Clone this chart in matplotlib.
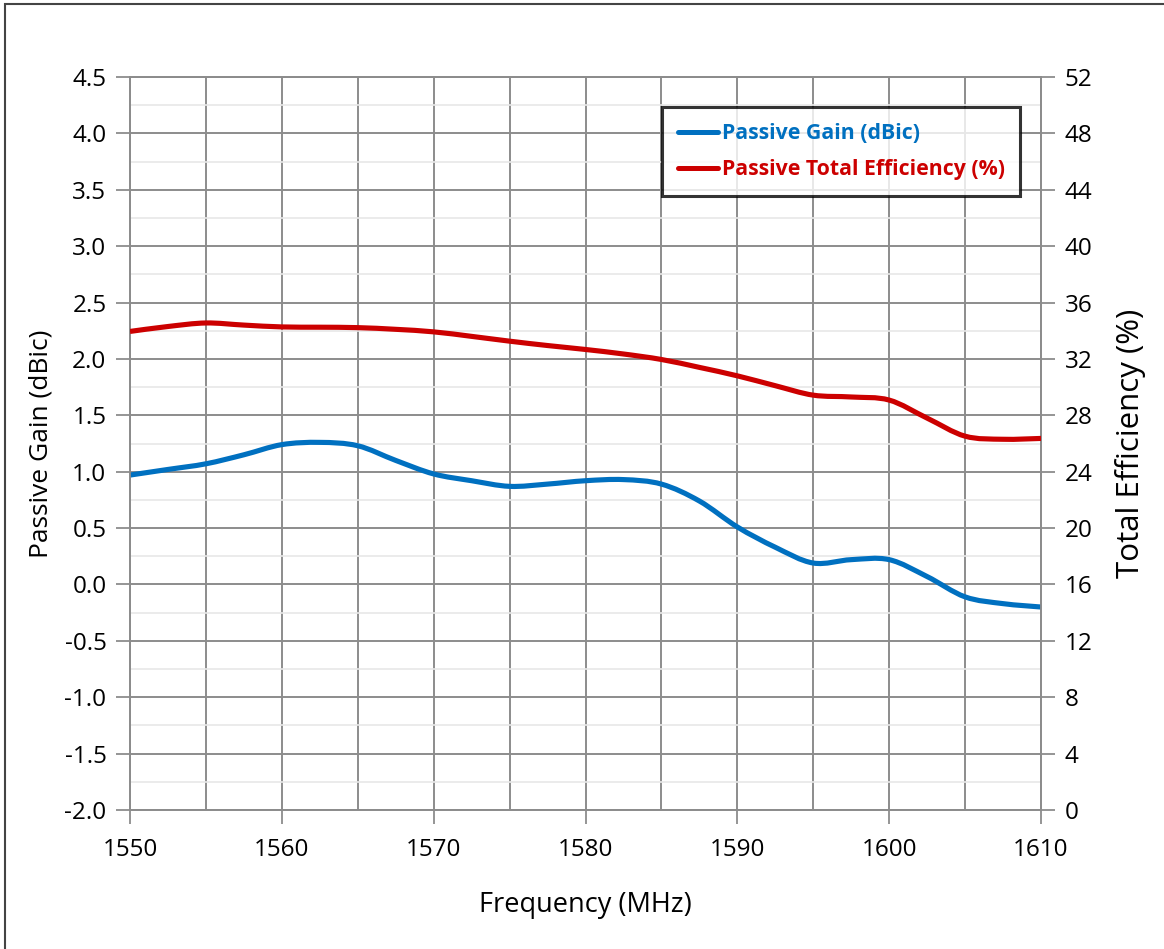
import matplotlib
matplotlib.use("Agg")
import matplotlib.pyplot as plt
from matplotlib.patches import Rectangle, PathPatch
from matplotlib.path import Path
from matplotlib.lines import Line2D
from matplotlib.ticker import MultipleLocator, FixedLocator

plt.rcParams['font.family'] = ['Open Sans', 'DejaVu Sans']

freq = [1550, 1552.5, 1555, 1557.5, 1560, 1562.5, 1565, 1567.5, 1570, 1572.5,
        1575, 1577.5, 1580, 1582.5, 1585, 1587.5, 1590, 1592.5, 1595, 1597.5,
        1600, 1602.5, 1605, 1607.5, 1610]
gain = [0.97, 1.02, 1.07, 1.15, 1.24, 1.26, 1.23, 1.10, 0.98, 0.92,
        0.87, 0.89, 0.92, 0.93, 0.89, 0.74, 0.51, 0.33, 0.19, 0.22,
        0.22, 0.07, -0.11, -0.17, -0.20]
eff = [33.95, 34.3, 34.55, 34.4, 34.27, 34.25, 34.22, 34.1, 33.92, 33.6,
       33.26, 32.95, 32.67, 32.35, 31.96, 31.4, 30.8, 30.1, 29.43, 29.3,
       29.08, 27.8, 26.52, 26.3, 26.36]

x_ticks = [1550, 1560, 1570, 1580, 1590, 1600, 1610]
y_left_ticks = [-2.0, -1.5, -1.0, -0.5, 0.0, 0.5, 1.0, 1.5, 2.0, 2.5, 3.0, 3.5, 4.0, 4.5]
y_right_ticks = list(range(0, 53, 4))

blue = '#0070C0'
red = '#CC0000'
grid_c = '#8c8c8c'


def smooth_path(xs, ys):
    """Excel-style smoothed line: cubic Bezier through the points (Catmull-Rom)."""
    pts = list(zip(xs, ys))
    n = len(pts)
    verts = [pts[0]]
    codes = [Path.MOVETO]
    for i in range(n - 1):
        p0 = pts[i - 1] if i > 0 else pts[i]
        p1 = pts[i]
        p2 = pts[i + 1]
        p3 = pts[i + 2] if i + 2 < n else pts[i + 1]
        c1 = (p1[0] + (p2[0] - p0[0]) / 6, p1[1] + (p2[1] - p0[1]) / 6)
        c2 = (p2[0] - (p3[0] - p1[0]) / 6, p2[1] - (p3[1] - p1[1]) / 6)
        verts += [c1, c2, p2]
        codes += [Path.CURVE4] * 3
    return Path(verts, codes)


W, H = 1164, 949
fig = plt.figure(figsize=(W / 100, H / 100), dpi=100)
ax = fig.add_axes([130 / W, 1 - 810 / H, (1041 - 130) / W, (810 - 77) / H])
ax2 = ax.twinx()

ax.set_xlim(1550, 1610)
ax.set_ylim(-2.0, 4.5)
ax2.set_ylim(0, 52)

ax.xaxis.set_major_locator(FixedLocator(x_ticks))
ax.xaxis.set_minor_locator(MultipleLocator(5))
ax.yaxis.set_major_locator(FixedLocator(y_left_ticks))
ax.yaxis.set_minor_locator(MultipleLocator(0.25))
ax2.yaxis.set_major_locator(FixedLocator(y_right_ticks))

ax.grid(True, which='major', axis='both', color=grid_c, lw=1.4, zorder=0)
ax.grid(True, which='minor', axis='x', color=grid_c, lw=1.4, zorder=0)
ax.grid(True, which='minor', axis='y', color='#e8e8e8', lw=1.2, zorder=0)
ax.set_axisbelow(True)

ax.tick_params(axis='both', which='major', direction='out', length=10, width=1.3,
               color=grid_c, labelsize=17.5)
ax.tick_params(axis='x', which='major', pad=10)
ax.tick_params(axis='y', which='major', pad=7)
ax.tick_params(axis='both', which='minor', length=0)
ax2.tick_params(axis='y', which='major', direction='out', length=10, width=1.3,
                color=grid_c, labelsize=17.5, pad=7)
ax.set_yticklabels([f"{v:.1f}" for v in y_left_ticks])

for a in (ax, ax2):
    for s in a.spines.values():
        s.set_color(grid_c)
        s.set_linewidth(1.3)

ax.add_patch(PathPatch(smooth_path(freq, gain), facecolor='none', edgecolor=blue,
                       lw=3.7, capstyle='butt', zorder=3))
ax2.add_patch(PathPatch(smooth_path(freq, eff), facecolor='none', edgecolor=red,
                        lw=3.7, capstyle='butt', zorder=3))

h1 = Line2D([], [], color=blue, lw=3.6, solid_capstyle='round')
h2 = Line2D([], [], color=red, lw=3.6, solid_capstyle='round')

ax.set_xlabel('Frequency (MHz)', fontsize=19.5, labelpad=21)
ax.set_ylabel('Passive Gain (dBic)', fontsize=19, labelpad=8)
ax2.set_ylabel('Total Efficiency (%)', fontsize=22.5, labelpad=16)

leg = ax2.legend(handles=[h1, h2],
                 labels=['Passive Gain (dBic)', 'Passive Total Efficiency (%)'],
                 loc='upper left',
                 bbox_to_anchor=((662 - 130) / (1041 - 130), 1 - (107 - 77) / (810 - 77)),
                 borderaxespad=0,
                 frameon=True, fancybox=False, edgecolor='black',
                 handlelength=1.9, handletextpad=0.15, borderpad=0.75, labelspacing=0.72,
                 prop={'weight': 'bold', 'size': 15.3})
leg.get_frame().set_linewidth(2.2)
for t, c in zip(leg.get_texts(), [blue, red]):
    t.set_color(c)

fig.patches.append(Rectangle((5 / W, -0.1), 1.2, 1 - 3.5 / H + 0.1, transform=fig.transFigure,
                             fill=False, edgecolor='#444444', lw=1.5))

fig.savefig('out.png', dpi=100)
